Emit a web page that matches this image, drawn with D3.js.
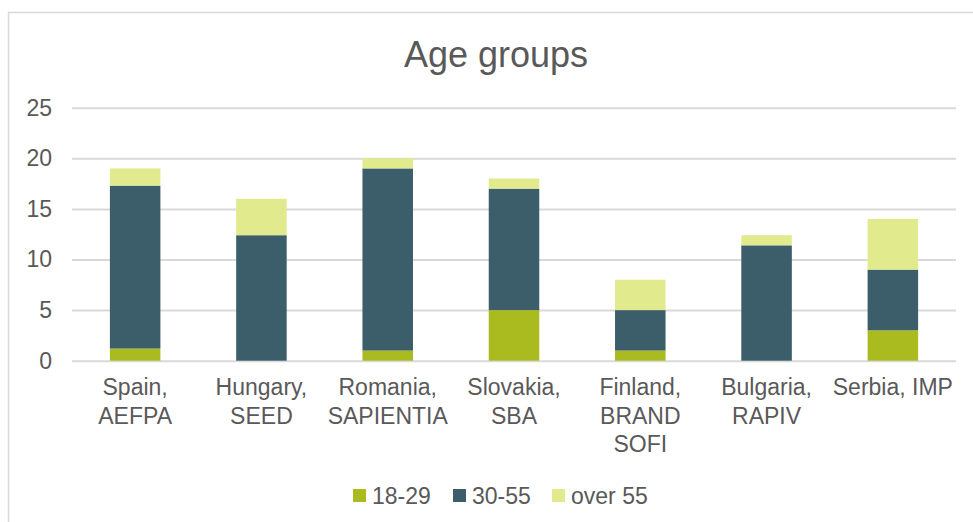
<!DOCTYPE html>
<html>
<head>
<meta charset="utf-8">
<script src="https://cdn.jsdelivr.net/npm/d3@7"></script>
<style>
  html, body { margin: 0; padding: 0; background: #fff; }
  svg { display: block; font-family: "Liberation Sans", Arial, sans-serif; }
</style>
</head>
<body>
<svg id="chart" width="973" height="522"></svg>
<script>
const categories = ["Spain, AEFPA", "Hungary, SEED", "Romania, SAPIENTIA", "Slovakia, SBA", "Finland, BRAND SOFI", "Bulgaria, RAPIV", "Serbia, IMP"];
const seriesNames = ["18-29", "30-55", "over 55"];
const age18to29 = [1.2, 0, 1, 5, 1, 0, 3];
const age30to55 = [16.1, 12.4, 18, 12, 4, 11.4, 6];
const ageOver55 = [1.7, 3.6, 1, 1, 3, 1, 5];
const yTicks = [0, 5, 10, 15, 20, 25];
const colors = ["#AABB1F", "#3C5E6A", "#E1EB8D"];

const svg = d3.select("#chart");
const W = 973, H = 522;
const textColor = "#595959";
const gridColor = "#D9D9D9";

// chart border
svg.append("rect")
  .attr("x", 8.5).attr("y", 12.5)
  .attr("width", W + 20).attr("height", H + 20)
  .attr("fill", "#fff").attr("stroke", gridColor).attr("stroke-width", 1.5);

const plot = { left: 72, right: 956, top: 107.7, bottom: 360.7 };

const x = d3.scaleBand().domain(categories).range([plot.left, plot.right]).paddingInner(0.6).paddingOuter(0.3);
const y = d3.scaleLinear().domain([0, 25]).range([plot.bottom, plot.top]);

// title
svg.append("text")
  .attr("x", 496).attr("y", 67)
  .attr("text-anchor", "middle")
  .attr("font-size", 36)
  .attr("fill", textColor)
  .text("Age groups");

// gridlines + y axis
const yAxis = d3.axisLeft(y).tickValues(yTicks).tickSize(-(plot.right - plot.left)).tickPadding(20);
const gy = svg.append("g").attr("transform", `translate(${plot.left},0)`).call(yAxis);
gy.select(".domain").remove();
gy.selectAll(".tick line").attr("stroke", gridColor).attr("stroke-width", 2);
gy.selectAll(".tick text").attr("fill", textColor).attr("font-size", 23)
  .attr("font-family", "Liberation Sans, Arial, sans-serif");

// stacked data
const rows = categories.map((c, i) => ({ cat: c, "18-29": age18to29[i], "30-55": age30to55[i], "over 55": ageOver55[i] }));
const stacked = d3.stack().keys(seriesNames)(rows);

svg.append("g").selectAll("g").data(stacked).join("g")
  .attr("fill", (d, i) => colors[i])
  .selectAll("rect").data(d => d.filter(p => p[1] - p[0] > 0)).join("rect")
  .attr("x", d => x(d.data.cat))
  .attr("width", x.bandwidth())
  .attr("y", d => y(d[1]))
  .attr("height", d => y(d[0]) - y(d[1]));

// x axis labels (wrapped)
const xAxis = d3.axisBottom(x).tickSize(0).tickPadding(18);
const gx = svg.append("g").attr("transform", `translate(0,${plot.bottom})`).call(xAxis);
gx.select(".domain").remove();
gx.selectAll(".tick text").attr("fill", textColor).attr("font-size", 23)
  .attr("font-family", "Liberation Sans, Arial, sans-serif")
  .each(function(d) {
    const t = d3.select(this);
    const words = d.split(" ");
    t.text(null);
    const maxW = 132;
    let line = [];
    let lineNo = 0;
    let tspan = t.append("tspan").attr("x", 0).attr("dy", "0.71em");
    for (const w of words) {
      line.push(w);
      tspan.text(line.join(" "));
      if (tspan.node().getComputedTextLength() > maxW && line.length > 1) {
        line.pop();
        tspan.text(line.join(" "));
        line = [w];
        lineNo++;
        tspan = t.append("tspan").attr("x", 0).attr("dy", "1.24em").text(w);
      }
    }
  });

// legend
const legendX = [353, 453, 552];
const lg = svg.append("g");
seriesNames.forEach((s, i) => {
  lg.append("rect").attr("x", legendX[i]).attr("y", 489).attr("width", 13).attr("height", 13).attr("fill", colors[i]);
  lg.append("text").attr("x", legendX[i] + 19).attr("y", 495.5).attr("dy", "0.35em")
    .attr("font-size", 23).attr("fill", textColor).text(s);
});
</script>
</body>
</html>
